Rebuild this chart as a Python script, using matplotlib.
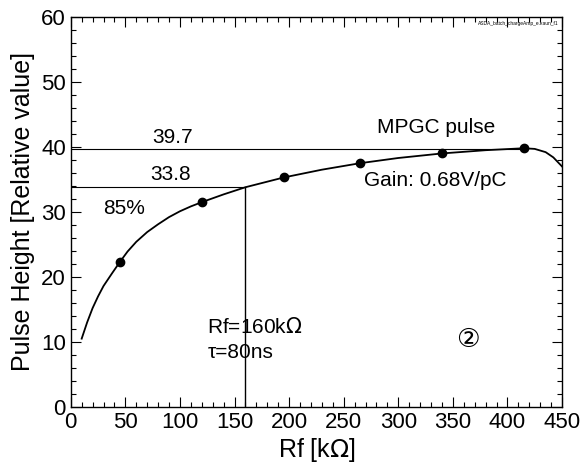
import numpy as np
import matplotlib.pyplot as plt
from matplotlib.ticker import MultipleLocator

plt.rcParams['font.family'] = ['Liberation Sans', 'DejaVu Sans']

# measured points (Rf in kOhm, pulse height relative)
rf_pts = [45, 120, 195, 265, 340, 415]
ph_pts = [22.3, 31.5, 35.3, 37.5, 39.0, 39.8]

# smooth fitted curve
rf_curve = [10, 15, 20, 25, 30, 38, 45, 52, 60, 70, 80, 90, 100, 110, 120,
            140, 160, 195, 230, 265, 300, 340, 380, 415, 425, 435, 442, 450]
ph_curve = [10.5, 13.0, 15.2, 17.0, 18.6, 20.6, 22.3, 23.9, 25.4, 26.9, 28.1,
            29.2, 30.1, 30.85, 31.5, 32.7, 33.8, 35.3, 36.5, 37.5, 38.3, 39.0,
            39.5, 39.8, 39.7, 39.2, 38.4, 37.0]

max_val = 39.7
rf_sel = 160
val_sel = 33.8

fig = plt.figure(figsize=(5.8, 4.72), dpi=100)
ax = fig.add_axes([0.122, 0.138, 0.847, 0.826])

ax.plot(rf_curve, ph_curve, color='black', linewidth=1.3)
ax.plot(rf_pts, ph_pts, 'o', color='black', markersize=6)

ax.plot([0, 415], [max_val, max_val], color='black', linewidth=0.8)
ax.plot([0, rf_sel], [val_sel, val_sel], color='black', linewidth=0.8)
ax.plot([rf_sel, rf_sel], [0, val_sel], color='black', linewidth=1.0)

ax.set_xlim(0, 450)
ax.set_ylim(0, 60)
ax.xaxis.set_major_locator(MultipleLocator(50))
ax.xaxis.set_minor_locator(MultipleLocator(10))
ax.yaxis.set_major_locator(MultipleLocator(10))
ax.yaxis.set_minor_locator(MultipleLocator(2))
ax.tick_params(which='both', direction='in', top=True, right=True,
               labelsize=16, width=0.8)
ax.tick_params(which='major', length=7)
ax.tick_params(which='minor', length=3.5)
for s in ax.spines.values():
    s.set_linewidth(1.0)

ax.set_xlabel('Rf [k$\\Omega$]', fontsize=18, labelpad=2)
ax.set_ylabel('Pulse Height [Relative value]', fontsize=18, labelpad=4)

fs = 15
ax.text(93, 41.5, '39.7', fontsize=fs, ha='center', va='center')
ax.text(91, 35.7, '33.8', fontsize=fs, ha='center', va='center')
ax.text(48.5, 30.6, '85%', fontsize=fs, ha='center', va='center')
ax.text(335, 43.0, 'MPGC pulse', fontsize=fs, ha='center', va='center')
ax.text(334, 34.9, 'Gain: 0.68V/pC', fontsize=fs, ha='center', va='center')
ax.text(125, 12.3, 'Rf=160k$\\Omega$', fontsize=fs, ha='left', va='center')
ax.text(125, 8.3, '\u03c4=80ns', fontsize=fs, ha='left', va='center')
ax.text(364, 10.3, '\u2461', fontsize=19, ha='center', va='center',
        family=['DejaVu Sans'])
ax.text(447, 59.4, 'ASDA_batch_chargeAmp_e.kaun_f1', fontsize=3.5,
        ha='right', va='top')

fig.savefig('out.png', dpi=100)
